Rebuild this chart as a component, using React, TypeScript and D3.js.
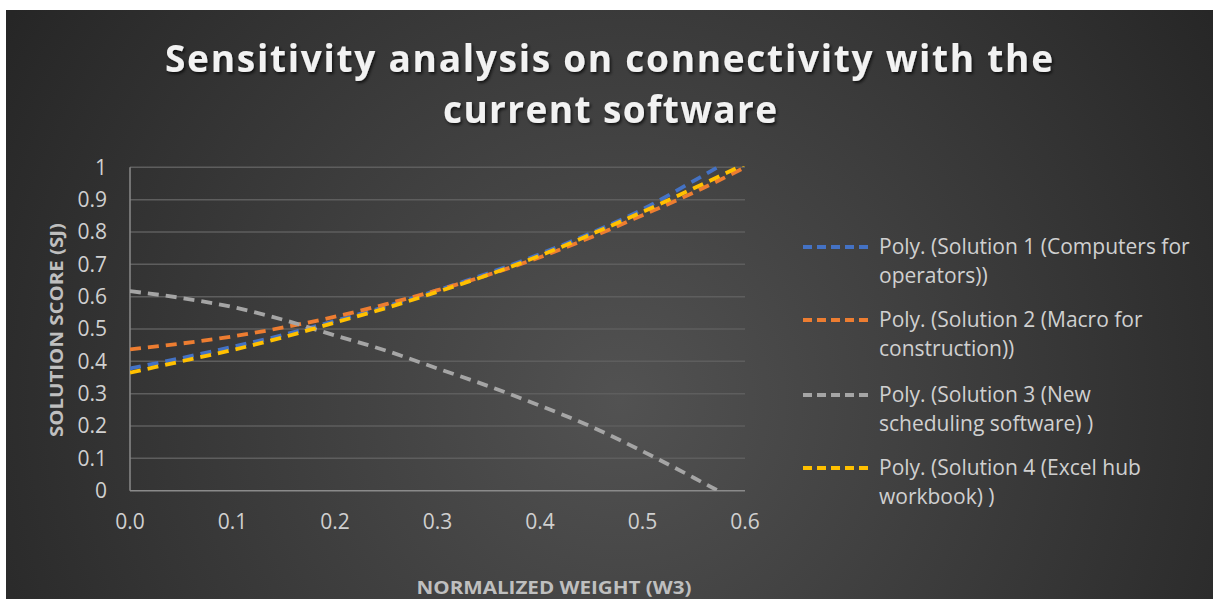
import React from "react";
import * as d3 from "d3";

// Normalized weight (W3) sample positions
const weights = [0, 0.05, 0.1, 0.15, 0.2, 0.25, 0.3, 0.35, 0.4, 0.45, 0.5, 0.55, 0.6];

// Polynomial trend values for each solution score
const solution1 = [0.378, 0.41, 0.445, 0.482, 0.525, 0.57, 0.62, 0.673, 0.732, 0.797, 0.87, 0.958, 1.05];
const solution2 = [0.437, 0.455, 0.477, 0.505, 0.538, 0.577, 0.62, 0.668, 0.722, 0.784, 0.852, 0.922, 1.0];
const solution3 = [0.617, 0.596, 0.568, 0.528, 0.48, 0.433, 0.378, 0.323, 0.263, 0.198, 0.122, 0.04, -0.045];
const solution4 = [0.365, 0.4, 0.435, 0.475, 0.52, 0.565, 0.615, 0.668, 0.727, 0.793, 0.862, 0.935, 1.01];

const seriesNames = [
  ["Poly. (Solution 1 (Computers for", "operators))"],
  ["Poly. (Solution 2 (Macro for", "construction))"],
  ["Poly. (Solution 3 (New", "scheduling software) )"],
  ["Poly. (Solution 4 (Excel hub", "workbook) )"],
];
const seriesColors = ["#4472C4", "#ED7D31", "#A5A5A5", "#FFC000"];
const seriesValues = [solution1, solution2, solution3, solution4];

const yTicks = [0, 0.1, 0.2, 0.3, 0.4, 0.5, 0.6, 0.7, 0.8, 0.9, 1];
const xTicks = [0, 0.1, 0.2, 0.3, 0.4, 0.5, 0.6];

const titleLines = ["Sensitivity analysis on connectivity with the", "current software"];
const xTitle = "NORMALIZED WEIGHT (W3)";
const yTitle = "SOLUTION SCORE (SJ)";

const W = 1213;
const H = 599;
const plot = { left: 130, right: 745, top: 167.3, bottom: 490.7 };
const FONT = "'Open Sans', 'DejaVu Sans', sans-serif";

export default function App() {
  const x = d3.scaleLinear().domain([0, 0.6]).range([plot.left, plot.right]);
  const y = d3.scaleLinear().domain([0, 1]).range([plot.bottom, plot.top]);

  const line = d3
    .line<[number, number]>()
    .x((d) => x(d[0]))
    .y((d) => y(d[1]))
    .curve(d3.curveMonotoneX);

  const legendX = 803;
  const legendRows = [247, 320, 395, 468];

  return (
    <svg
      width={W}
      height={H}
      style={{ position: "absolute", left: 0, top: 0, display: "block" }}
      xmlns="http://www.w3.org/2000/svg"
    >
      <defs>
        <radialGradient id="bg" gradientUnits="userSpaceOnUse" cx={620} cy={400} r={720}>
          <stop offset="0" stopColor="#525252" />
          <stop offset="1" stopColor="#262626" />
        </radialGradient>
        <clipPath id="plotClip">
          <rect x={plot.left} y={plot.top - 1} width={plot.right - plot.left + 2} height={plot.bottom - plot.top + 1} />
        </clipPath>
        <filter id="titleShadow" x="-5%" y="-30%" width="110%" height="160%">
          <feDropShadow dx={1.5} dy={2} stdDeviation={1.8} floodColor="#000" floodOpacity={0.7} />
        </filter>
      </defs>

      <rect x={0} y={0} width={W} height={H} fill="#ffffff" />
      <rect x={6} y={10} width={W - 6} height={H - 10} fill="url(#bg)" />

      {/* Title */}
      <g filter="url(#titleShadow)" fill="#f2f2f2" fontFamily={FONT} fontWeight={700} fontSize={37}>
        <text x={609} y={72} textAnchor="middle" textLength={888} lengthAdjust="spacing">
          {titleLines[0]}
        </text>
        <text x={610} y={123} textAnchor="middle" textLength={334} lengthAdjust="spacing">
          {titleLines[1]}
        </text>
      </g>

      {/* Gridlines */}
      {yTicks.slice(1).map((t) => (
        <line key={`g${t}`} x1={plot.left} x2={plot.right} y1={y(t)} y2={y(t)} stroke="#5e5e5e" strokeWidth={1.5} />
      ))}
      {/* Axes */}
      <line x1={plot.left} x2={plot.left} y1={plot.top} y2={plot.bottom} stroke="#8a8a8a" strokeWidth={1.5} />
      <line x1={plot.left} x2={plot.right} y1={plot.bottom} y2={plot.bottom} stroke="#8a8a8a" strokeWidth={1.5} />

      {/* Y tick labels */}
      {yTicks.map((t) => (
        <text
          key={`y${t}`}
          x={107}
          y={y(t)}
          dy="0.35em"
          textAnchor="end"
          fill="#d0d0d0"
          fontFamily={FONT}
          fontSize={21}
        >
          {d3.format("~g")(t)}
        </text>
      ))}
      {/* X tick labels */}
      {xTicks.map((t) => (
        <text
          key={`x${t}`}
          x={x(t)}
          y={522}
          dy="0.35em"
          textAnchor="middle"
          fill="#d0d0d0"
          fontFamily={FONT}
          fontSize={21}
        >
          {d3.format(".1f")(t)}
        </text>
      ))}

      {/* Axis titles */}
      <text
        x={554}
        y={588}
        dy="0.35em"
        textAnchor="middle"
        fill="#bfbfbf"
        fontFamily={FONT}
        fontWeight={700}
        fontSize={18}
        textLength={275}
        lengthAdjust="spacingAndGlyphs"
      >
        {xTitle}
      </text>
      <text
        transform={`translate(57,330) rotate(-90)`}
        dy="0.35em"
        textAnchor="middle"
        fill="#bfbfbf"
        fontFamily={FONT}
        fontWeight={700}
        fontSize={18}
        textLength={214}
        lengthAdjust="spacingAndGlyphs"
      >
        {yTitle}
      </text>

      {/* Trend lines */}
      <g clipPath="url(#plotClip)">
        {seriesValues.map((vals, i) => (
          <path
            key={`s${i}`}
            d={line(weights.map((w, j) => [w, vals[j]] as [number, number])) || ""}
            fill="none"
            stroke={seriesColors[i]}
            strokeWidth={3.8}
            strokeDasharray="11 7"
          />
        ))}
      </g>

      {/* Legend */}
      {seriesNames.map((lines, i) => (
        <g key={`l${i}`}>
          <line
            x1={legendX}
            x2={legendX + 69}
            y1={legendRows[i]}
            y2={legendRows[i]}
            stroke={seriesColors[i]}
            strokeWidth={3.8}
            strokeDasharray="9 5"
          />
          {lines.map((txt, k) => (
            <text
              key={k}
              x={879}
              y={legendRows[i] + k * 29}
              dy="0.35em"
              fill="#d0d0d0"
              fontFamily={FONT}
              fontSize={21}
            >
              {txt}
            </text>
          ))}
        </g>
      ))}
    </svg>
  );
}
